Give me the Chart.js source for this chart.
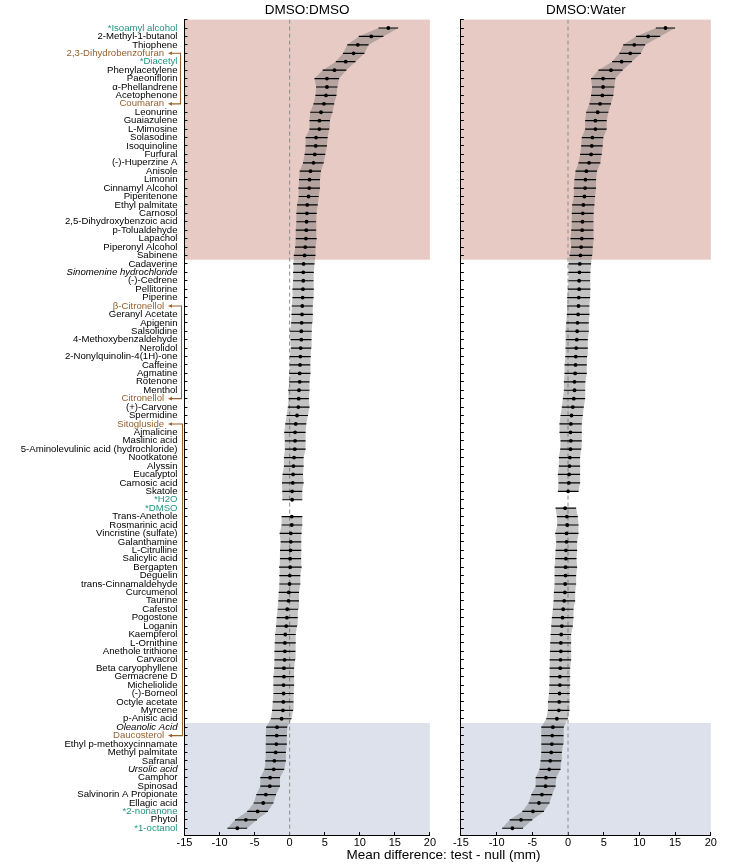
<!DOCTYPE html>
<html>
<head>
<meta charset="utf-8">
<script src="https://cdn.jsdelivr.net/npm/chart.js@4.4.1/dist/chart.umd.min.js"></script>
<style>
  body { margin: 0; background: #fff; }
  #wrap { position: relative; width: 740px; height: 864px; }
  canvas { position: absolute; top: 0; }
  #left { left: 0; }
  #right { left: 440px; }
  #xtitle {
    position: absolute; left: 443.5px; top: 847px; transform: translateX(-50%);
    font: 13.5px "Liberation Sans", Arial, sans-serif; line-height: 16px; white-space: nowrap; color: #000;
  }
</style>
</head>
<body>
<div id="wrap">
  <canvas id="left" width="440" height="864"></canvas>
  <canvas id="right" width="300" height="864"></canvas>
  <div id="xtitle">Mean difference: test - null (mm)</div>
</div>
<script>
// compounds, top to bottom
const compounds = [
  '*Isoamyl alcohol', '2-Methyl-1-butanol', 'Thiophene', '2,3-Dihydrobenzofuran', '*Diacetyl',
  'Phenylacetylene', 'Paeoniflorin', 'α-Phellandrene', 'Acetophenone', 'Coumaran',
  'Leonurine', 'Guaiazulene', 'L-Mimosine', 'Solasodine', 'Isoquinoline',
  'Furfural', '(-)-Huperzine A', 'Anisole', 'Limonin', 'Cinnamyl Alcohol',
  'Piperitenone', 'Ethyl palmitate', 'Carnosol', '2,5-Dihydroxybenzoic acid', 'p-Tolualdehyde',
  'Lapachol', 'Piperonyl Alcohol', 'Sabinene', 'Cadaverine', 'Sinomenine hydrochloride',
  '(-)-Cedrene', 'Pellitorine', 'Piperine', 'β-Citronellol', 'Geranyl Acetate',
  'Apigenin', 'Salsolidine', '4-Methoxybenzaldehyde', 'Nerolidol', '2-Nonylquinolin-4(1H)-one',
  'Caffeine', 'Agmatine', 'Rotenone', 'Menthol', 'Citronellol',
  '(+)-Carvone', 'Spermidine', 'Sitogluside', 'Ajmalicine', 'Maslinic acid',
  '5-Aminolevulinic acid (hydrochloride)', 'Nootkatone', 'Alyssin', 'Eucalyptol', 'Carnosic acid',
  'Skatole', '*H2O', '*DMSO', 'Trans-Anethole', 'Rosmarinic acid',
  'Vincristine (sulfate)', 'Galanthamine', 'L-Citrulline', 'Salicylic acid', 'Bergapten',
  'Deguelin', 'trans-Cinnamaldehyde', 'Curcumenol', 'Taurine', 'Cafestol',
  'Pogostone', 'Loganin', 'Kaempferol', 'L-Ornithine', 'Anethole trithione',
  'Carvacrol', 'Beta caryophyllene', 'Germacrene D', 'Micheliolide', '(-)-Borneol',
  'Octyle acetate', 'Myrcene', 'p-Anisic acid', 'Oleanolic Acid', 'Daucosterol',
  'Ethyl p-methoxycinnamate', 'Methyl palmitate', 'Safranal', 'Ursolic acid', 'Camphor',
  'Spinosad', 'Salvinorin A Propionate', 'Ellagic acid', '*2-nonanone', 'Phytol',
  '*1-octanol'
];

const controls = ['*Isoamyl alcohol', '*Diacetyl', '*H2O', '*DMSO', '*2-nonanone', '*1-octanol'];
const italicNames = ['Sinomenine hydrochloride', 'Oleanolic Acid', 'Ursolic acid'];
const linkedPairs = [
  ['2,3-Dihydrobenzofuran', 'Coumaran'],
  ['β-Citronellol', 'Citronellol'],
  ['Sitogluside', 'Daucosterol']
];

// shaded row ranges (attractive / aversive)
const attractRows = [0, 28.5];
const aversiveRows = [83.5, 96.8];
const ROW_MAX = 96.8;

// DMSO:DMSO
const dmsoMean = [
  14.07, 11.64, 9.72, 9.11, 7.99, 6.39, 5.32, 5.32, 5.18, 4.89,
  4.47, 4.24, 4.24, 3.77, 3.72, 3.58, 3.40, 2.97, 2.83, 2.79,
  2.69, 2.51, 2.46, 2.41, 2.37, 2.32, 2.22, 2.13, 1.99, 1.94,
  1.94, 1.90, 1.85, 1.80, 1.76, 1.71, 1.66, 1.66, 1.57, 1.52,
  1.48, 1.43, 1.43, 1.33, 1.29, 1.24, 1.05, 0.87, 0.77, 0.77,
  0.73, 0.63, 0.54, 0.49, 0.44, 0.35, 0.35, null, 0.30, 0.30,
  0.16, 0.16, 0.12, 0.07, 0.07, 0.02, -0.02, -0.12, -0.16, -0.35,
  -0.40, -0.49, -0.63, -0.68, -0.68, -0.73, -0.82, -0.82, -0.87, -0.87,
  -0.91, -0.96, -1.15, -1.80, -1.85, -1.90, -1.99, -2.18, -2.27, -2.79,
  -2.83, -3.40, -3.77, -4.57, -6.25, -7.47
];
const dmsoLow = [
  12.67, 9.86, 8.22, 7.61, 6.58, 4.71, 3.54, 3.77, 3.68, 3.40,
  2.93, 2.83, 2.83, 2.27, 2.27, 2.13, 1.90, 1.43, 1.33, 1.24,
  1.29, 1.05, 0.96, 0.96, 0.87, 0.87, 0.77, 0.59, 0.49, 0.49,
  0.49, 0.40, 0.40, 0.30, 0.26, 0.21, 0.02, 0.12, 0.16, 0.02,
  0.02, -0.07, -0.07, -0.21, -0.16, -0.26, -0.44, -0.63, -0.77, -0.68,
  -0.68, -0.82, -0.82, -1.01, -1.10, -1.05, -1.05, null, -1.15, -1.15,
  -1.43, -1.29, -1.38, -1.38, -1.52, -1.48, -1.48, -1.57, -1.62, -1.71,
  -1.85, -1.94, -2.08, -2.13, -2.18, -2.18, -2.22, -2.32, -2.32, -2.32,
  -2.41, -2.51, -2.69, -3.35, -3.40, -3.40, -3.40, -3.49, -3.58, -4.19,
  -4.19, -4.75, -5.13, -6.06, -7.80, -8.88
];
const dmsoHigh = [
  15.48, 13.37, 11.26, 10.66, 9.39, 8.08, 7.05, 6.81, 6.67, 6.35,
  6.11, 5.74, 5.64, 5.41, 5.32, 5.08, 4.85, 4.47, 4.33, 4.33,
  4.15, 4.00, 3.86, 3.77, 3.77, 3.86, 3.68, 3.68, 3.54, 3.44,
  3.40, 3.44, 3.40, 3.30, 3.30, 3.21, 3.16, 3.11, 3.07, 3.02,
  2.93, 2.97, 2.83, 2.83, 2.74, 2.83, 2.60, 2.37, 2.27, 2.27,
  2.27, 1.99, 1.99, 1.90, 1.99, 1.80, 1.80, null, 1.80, 1.80,
  1.71, 1.66, 1.66, 1.62, 1.71, 1.52, 1.52, 1.33, 1.33, 1.19,
  1.15, 1.05, 0.87, 0.87, 0.82, 0.77, 0.63, 0.63, 0.63, 0.59,
  0.54, 0.49, 0.26, -0.35, -0.40, -0.40, -0.54, -0.54, -0.77, -1.38,
  -1.38, -1.94, -2.32, -3.11, -4.66, -6.07
];

// DMSO:Water
const waterMean = [
  13.65, 11.23, 9.28, 8.72, 7.51, 6.02, 4.91, 4.91, 4.81, 4.49,
  4.16, 3.84, 3.84, 3.42, 3.33, 3.23, 2.95, 2.58, 2.44, 2.40,
  2.30, 2.16, 2.07, 2.02, 1.98, 1.93, 1.84, 1.74, 1.65, 1.60,
  1.56, 1.56, 1.51, 1.47, 1.42, 1.33, 1.28, 1.23, 1.14, 1.09,
  1.05, 1.00, 0.91, 0.91, 0.81, 0.67, 0.49, 0.40, 0.35, 0.40,
  0.35, 0.26, 0.21, 0.16, 0.12, 0.02, null, -0.40, -0.16, -0.12,
  -0.21, -0.21, -0.30, -0.30, -0.35, -0.35, -0.40, -0.44, -0.53, -0.67,
  -0.77, -0.86, -0.95, -1.00, -1.00, -1.05, -1.09, -1.14, -1.14, -1.19,
  -1.23, -1.28, -1.56, -2.12, -2.21, -2.26, -2.35, -2.49, -2.63, -3.09,
  -3.14, -3.65, -4.07, -4.91, -6.58, -7.79
];
const waterLow = [
  12.30, 9.51, 7.74, 7.19, 6.16, 4.26, 3.23, 3.37, 3.23, 3.00,
  2.53, 2.40, 2.40, 1.93, 1.84, 1.70, 1.47, 1.05, 0.91, 0.81,
  0.81, 0.58, 0.53, 0.53, 0.44, 0.35, 0.44, 0.21, 0.07, 0.07,
  0.07, -0.02, -0.12, -0.12, -0.16, -0.26, -0.35, -0.30, -0.35, -0.40,
  -0.49, -0.49, -0.58, -0.58, -0.72, -0.86, -1.05, -1.19, -1.19, -1.05,
  -1.09, -1.28, -1.28, -1.42, -1.33, -1.42, null, -1.74, -1.56, -1.51,
  -1.79, -1.65, -1.74, -1.79, -1.88, -1.88, -1.88, -1.98, -2.02, -2.12,
  -2.26, -2.35, -2.44, -2.49, -2.53, -2.58, -2.58, -2.58, -2.63, -2.67,
  -2.81, -2.81, -3.05, -3.74, -3.74, -3.74, -3.74, -3.84, -3.98, -4.53,
  -4.53, -5.14, -5.51, -6.40, -8.16, -9.23
];
const waterHigh = [
  15.00, 12.91, 10.81, 10.21, 8.95, 7.65, 6.63, 6.49, 6.35, 6.02,
  5.65, 5.42, 5.42, 4.95, 4.86, 4.72, 4.53, 4.07, 3.93, 3.93,
  3.79, 3.70, 3.60, 3.56, 3.56, 3.60, 3.47, 3.37, 3.23, 3.14,
  3.09, 3.14, 3.09, 3.00, 3.00, 2.91, 2.91, 2.77, 2.77, 2.67,
  2.63, 2.63, 2.44, 2.40, 2.40, 2.21, 2.07, 1.93, 1.93, 1.93,
  1.84, 1.70, 1.70, 1.70, 1.70, 1.47, null, 1.14, 1.37, 1.47,
  1.47, 1.28, 1.28, 1.19, 1.28, 1.14, 1.14, 1.00, 1.00, 0.77,
  0.77, 0.67, 0.44, 0.44, 0.44, 0.44, 0.30, 0.30, 0.30, 0.26,
  0.21, 0.21, -0.02, -0.58, -0.63, -0.67, -0.86, -0.95, -1.05, -1.65,
  -1.74, -2.21, -2.58, -3.37, -5.00, -6.30
];

const FONT = '"Liberation Sans", Arial, sans-serif';
const GREEN = '#23937f';
const BROWN = '#97622f';
const PINK = '#e7cac4';
const BLUE = '#dde1ec';

const pairMembers = linkedPairs.flat();

function labelColor(name) {
  if (controls.includes(name)) return GREEN;
  if (pairMembers.includes(name)) return BROWN;
  return '#000';
}

// compound name behind a tick context (undefined when there is no tick)
function tickName(ctx) {
  return ctx && ctx.tick ? compounds[ctx.tick.value - 1] : undefined;
}

// one row of points per compound, split where a value is missing
function dotPoints(mean) {
  return mean.map((v, i) => ({x: v, y: i + 1})).filter(p => p.x !== null);
}

function barPoints(lo, hi) {
  const pts = [];
  lo.forEach((v, i) => {
    if (v === null) return;
    pts.push({x: v, y: i + 1}, {x: hi[i], y: i + 1}, {x: null, y: null});
  });
  return pts;
}

// polygon through the interval ends, one per unbroken run of rows
function bandPoints(lo, hi) {
  const pts = [];
  let run = [];
  const flush = () => {
    if (!run.length) return;
    run.forEach(i => pts.push({x: lo[i], y: i + 1}));
    run.slice().reverse().forEach(i => pts.push({x: hi[i], y: i + 1}));
    pts.push({x: null, y: null});
    run = [];
  };
  lo.forEach((v, i) => { if (v === null) flush(); else run.push(i); });
  flush();
  return pts;
}

const shading = {
  id: 'shading',
  beforeDraw(chart) {
    const {ctx, chartArea: a, scales: {y}} = chart;
    ctx.save();
    [[attractRows, PINK], [aversiveRows, BLUE]].forEach(([rows, color]) => {
      const y0 = y.getPixelForValue(rows[0]);
      const y1 = y.getPixelForValue(rows[1]);
      ctx.fillStyle = color;
      ctx.fillRect(a.left, y0, a.right - a.left, y1 - y0);
    });
    ctx.restore();
  }
};

const pairArrows = {
  id: 'pairArrows',
  afterDraw(chart) {
    const {ctx, chartArea: a, scales: {y}} = chart;
    ctx.save();
    ctx.strokeStyle = BROWN;
    ctx.fillStyle = BROWN;
    ctx.lineWidth = 1.1;
    linkedPairs.forEach((pair, k) => {
      const xv = a.left - 4 + k;
      const tip = a.left - 16.5;
      const ys = pair.map(n => y.getPixelForValue(compounds.indexOf(n) + 1));
      ctx.beginPath();
      ctx.moveTo(tip + 3, ys[0]);
      ctx.lineTo(xv, ys[0]);
      ctx.lineTo(xv, ys[1]);
      ctx.lineTo(tip + 3, ys[1]);
      ctx.stroke();
      ys.forEach(py => {
        ctx.beginPath();
        ctx.moveTo(tip, py);
        ctx.lineTo(tip + 4, py - 1.8);
        ctx.lineTo(tip + 4, py + 1.8);
        ctx.closePath();
        ctx.fill();
      });
    });
    ctx.restore();
  }
};

function makePanel(id, title, mean, lo, hi, showLabels, yWidth, padRight) {
  const plugins = [shading];
  if (showLabels) plugins.push(pairArrows);
  return new Chart(document.getElementById(id), {
    type: 'line',
    data: {
      datasets: [
        {
          data: dotPoints(mean), showLine: false, order: 0,
          pointRadius: 1.9, pointStyle: 'circle', pointBackgroundColor: '#000', pointBorderWidth: 0
        },
        {
          data: barPoints(lo, hi), order: 1, spanGaps: false,
          borderColor: '#000', borderWidth: 1.2, pointRadius: 0
        },
        {
          data: bandPoints(lo, hi), order: 2, spanGaps: false, fill: 'shape',
          backgroundColor: 'rgba(105,105,105,0.4)', borderColor: 'rgba(0,0,0,0)', borderWidth: 1, pointRadius: 0
        },
        {
          data: [{x: 0, y: 0}, {x: 0, y: ROW_MAX}], order: 3,
          borderColor: '#8a8a8a', borderWidth: 1, borderDash: [4, 3], pointRadius: 0
        }
      ]
    },
    options: {
      responsive: false,
      animation: false,
      events: [],
      layout: {padding: {left: 0, right: padRight, top: 0, bottom: 0}},
      plugins: {
        legend: {display: false},
        tooltip: {enabled: false},
        title: {
          display: true, text: title, fullSize: false, color: '#000',
          font: {family: FONT, size: 13.5, weight: 'normal'},
          padding: {top: 2.4, bottom: 1}
        }
      },
      scales: {
        x: {
          type: 'linear', min: -15, max: 20,
          afterFit: s => { s.height = 29; },
          border: {color: '#000', width: 1},
          grid: {drawOnChartArea: false, color: '#000', tickLength: -3},
          ticks: {stepSize: 5, padding: 4, color: '#000', maxRotation: 0, font: {family: FONT, size: 11}}
        },
        y: {
          type: 'linear', reverse: true, min: 0, max: ROW_MAX,
          afterFit: s => { s.width = yWidth; },
          border: {color: '#000', width: 1},
          grid: {drawOnChartArea: false, color: '#000', tickLength: -3},
          ticks: {
            stepSize: 1, autoSkip: false, includeBounds: false, padding: 10,
            callback: v => {
              const name = compounds[v - 1];
              if (!showLabels || !name) return '';
              return pairMembers.includes(name) ? name + '     ' : name;
            },
            color: ctx => labelColor(tickName(ctx)),
            font: ctx => ({
              family: FONT, size: 9.6,
              style: italicNames.includes(tickName(ctx)) ? 'italic' : 'normal'
            })
          }
        }
      }
    },
    plugins: plugins
  });
}

makePanel('left', 'DMSO:DMSO', dmsoMean, dmsoLow, dmsoHigh, true, 184.5, 5.7);
makePanel('right', 'DMSO:Water', waterMean, waterLow, waterHigh, false, 20.9, 29.2);
</script>
</body>
</html>
